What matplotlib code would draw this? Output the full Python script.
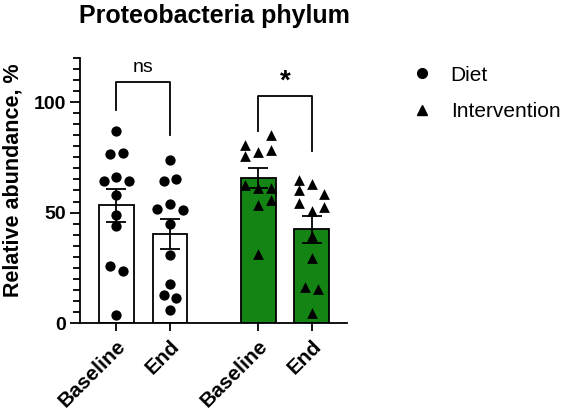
import matplotlib
matplotlib.use("Agg")
import matplotlib.pyplot as plt
from matplotlib.lines import Line2D
from matplotlib.ticker import MultipleLocator

plt.rcParams['font.family'] = ['Liberation Sans', 'DejaVu Sans']

# data
groups = ["Baseline", "End", "Baseline", "End"]
diet_base = [87.0, 76.7, 77.0, 65.9, 64.2, 64.2, 57.9, 48.8, 43.8, 25.8, 23.7, 3.8]
diet_end = [74.0, 64.4, 65.0, 54.1, 51.8, 51.1, 45.0, 31.0, 17.8, 12.8, 11.5, 5.7]
int_base = [85.0, 80.8, 78.5, 77.5, 75.5, 62.4, 61.3, 61.3, 55.6, 53.3, 31.4]
int_end = [64.7, 62.8, 60.1, 58.6, 54.4, 52.6, 50.6, 39.3, 29.6, 16.3, 15.3, 4.7]
sem = [7.3, 6.8, 4.7, 6.0]

# point layout inside each bar (column offsets)
off_diet_base = [0, -0.5, 0.5, 0, -1, 1, 0, 0, 0, -0.5, 0.5, 0]
off_diet_end = [0, -0.5, 0.5, 0, -1, 1, 0, 0, 0, -0.5, 0.5, 0]
off_int_base = [1, -1, 1, 0, -1, -1, 0, 1, 1, 0, 0]
off_int_end = [-1, 0, -1, 1, -1, 1, 0, 0, 0, -0.5, 0.5, 0]

series = [diet_base, diet_end, int_base, int_end]
offsets = [off_diet_base, off_diet_end, off_int_base, off_int_end]
xpos = [0, 1, 2.65, 3.65]
green = '#148414'
fills = ['white', 'white', green, green]
markers = ['o', 'o', '^', '^']

fig = plt.figure(figsize=(5.66, 4.13), dpi=100)
ax = fig.add_axes([80/566, 90/413, 267/566, 265/413])

means = [sum(s)/len(s) for s in series]
ax.bar(xpos, means, width=0.65, color=fills, edgecolor='black', linewidth=1.3, zorder=2)

for x, s, o, m in zip(xpos, series, offsets, markers):
    xs = [x + 0.237*d for d in o]
    ax.scatter(xs, s, marker=m, s=55 if m == 'o' else 60, color='black', zorder=4, linewidths=0)

ax.errorbar(xpos, means, yerr=sem, fmt='none', ecolor='black', elinewidth=1.3,
            capsize=7, capthick=1.3, zorder=5)

# significance brackets
lw = 1.3
ax.plot([0, 0, 1, 1], [96.5, 109, 109, 85], color='black', lw=lw, zorder=3)
ax.text(0.5, 112, "ns", ha='center', va='bottom', fontsize=14)
ax.plot([2.65, 2.65, 3.65, 3.65], [87, 103, 103, 78], color='black', lw=lw, zorder=3)
ax.text(3.15, 103.5, "*", ha='center', va='bottom', fontsize=20, fontweight='bold')

ax.set_xlim(-0.68, 4.31)
ax.set_ylim(0, 120)
ax.yaxis.set_major_locator(MultipleLocator(50))
ax.yaxis.set_minor_locator(MultipleLocator(5))
ax.set_xticks(xpos)
ax.set_xticklabels(groups, rotation=45, ha='right', rotation_mode='anchor',
                   fontsize=15, fontweight='bold')
for t in ax.get_yticklabels():
    t.set_fontweight('bold')
ax.tick_params(axis='y', which='major', length=7, width=1.3, labelsize=14, pad=3)
ax.tick_params(axis='y', which='minor', length=5, width=1.3)
ax.tick_params(axis='x', length=6, width=1.3, pad=4)
for side in ['top', 'right']:
    ax.spines[side].set_visible(False)
for side in ['left', 'bottom']:
    ax.spines[side].set_linewidth(1.3)

fig.text(214/566, 1 - 23/413, "Proteobacteria phylum", ha='center', va='baseline',
         fontsize=18, fontweight='bold')
fig.text(13/566, 1 - 180/413, "Relative abundance, %", rotation=90, ha='center',
         va='center', fontsize=15.5, fontweight='bold')

handles = [Line2D([], [], marker='o', color='black', linestyle='none', markersize=7),
           Line2D([], [], marker='^', color='black', linestyle='none', markersize=7)]
fig.legend(handles, ["Diet", "Intervention"], loc='upper left',
           bbox_to_anchor=(382/566, 1 - 47/413), frameon=False, fontsize=15,
           handletextpad=0.4, labelspacing=0.85)

fig.savefig("out.png", dpi=100)
